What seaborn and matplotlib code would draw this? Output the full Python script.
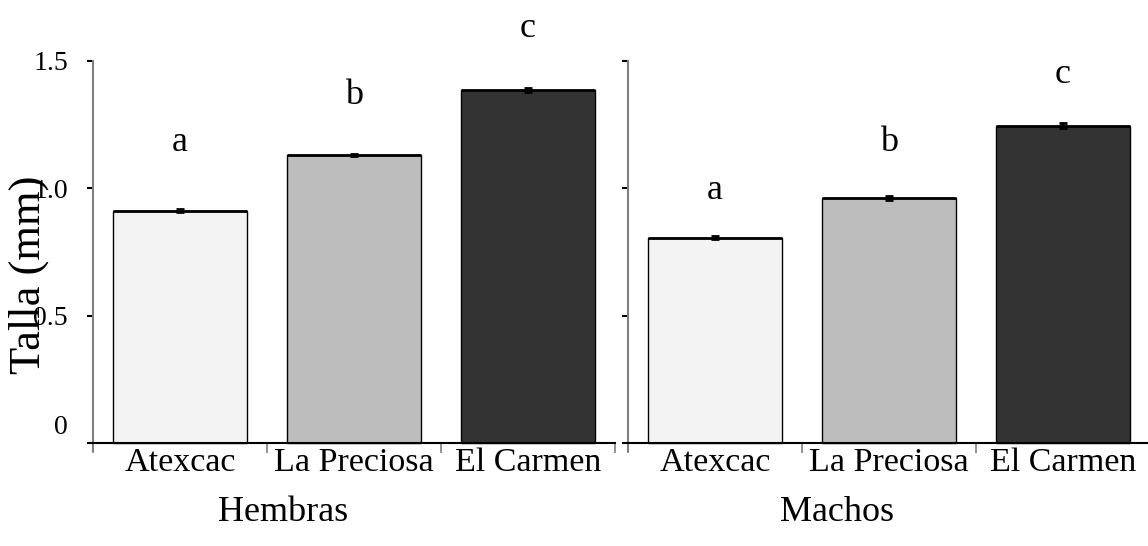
import matplotlib
matplotlib.use("Agg")
import matplotlib.pyplot as plt
import matplotlib.transforms as mtransforms
import numpy as np
import pandas as pd
import seaborn as sns

# Mean body length (mm) per site, females and males
sites = ["Atexcac", "La Preciosa", "El Carmen"]
hembras_talla = [0.911, 1.131, 1.386]
hembras_ee = [0.006, 0.005, 0.006]
machos_talla = [0.805, 0.962, 1.245]
machos_ee = [0.006, 0.006, 0.010]
hembras_letras = ["a", "b", "c"]
machos_letras = ["a", "b", "c"]
hembras_letra_y = [1.178, 1.366, 1.629]
machos_letra_y = [0.993, 1.178, 1.445]
colores = ["#f3f3f3", "#bdbdbd", "#333333"]
y_ticks = [0, 0.5, 1.0, 1.5]
y_ticklabels = ["0", "0.5", "1.0", "1.5"]

sns.set_theme(style="white")
plt.rcParams["font.family"] = ["Liberation Serif", "DejaVu Serif"]
plt.rcParams["text.color"] = "black"
plt.rcParams["xtick.color"] = "black"
plt.rcParams["ytick.color"] = "black"
plt.rcParams["axes.labelcolor"] = "black"

W, H = 1148, 546
fig = plt.figure(figsize=(W / 100, H / 100), dpi=100)

px_per_unit = 254.7
ymin = -0.03
ax_h = (1.5 - ymin) * px_per_unit
ax_bottom = (H - 443) + ymin * px_per_unit

ax1 = fig.add_axes([93 / W, ax_bottom / H, 522 / W, ax_h / H])
ax2 = fig.add_axes([628 / W, ax_bottom / H, 522 / W, ax_h / H])

panels = [
    (ax1, hembras_talla, hembras_ee, hembras_letras, hembras_letra_y, "Hembras", 0.365),
    (ax2, machos_talla, machos_ee, machos_letras, machos_letra_y, "Machos", 0.40),
]

for i, (ax, talla, ee, letras, letra_y, titulo, lx) in enumerate(panels):
    df = pd.DataFrame({"sitio": sites, "talla": talla})
    sns.barplot(data=df, x="sitio", y="talla", hue="sitio", palette=colores,
                width=0.77, edgecolor="black", linewidth=1.0, legend=False,
                saturation=1, ax=ax)
    centers = [p.get_x() + p.get_width() / 2 for p in ax.patches]
    # heavier line along each bar top
    for p in ax.patches:
        ax.plot([p.get_x(), p.get_x() + p.get_width()], [p.get_height()] * 2,
                color="black", lw=2, solid_capstyle="butt")
    ax.errorbar(centers, talla, yerr=ee, fmt="none", ecolor="black",
                elinewidth=1.5, capsize=3, capthick=2)
    for x, lab, ly in zip(centers, letras, letra_y):
        ax.text(x, ly, lab, ha="center", va="center", fontsize=26, color="black")

    ax.set_xlim(-0.5, 2.5)
    ax.set_ylim(ymin, 1.5)
    ax.set_yticks(y_ticks)
    ax.set_xticks([-0.5, 0.5, 1.5, 2.5], minor=False)
    ax.set_xticks([0, 1, 2], minor=True)
    ax.set_xticklabels([], minor=False)
    ax.set_xticklabels(sites, minor=True)
    ax.tick_params(axis="x", which="major", direction="out", length=7,
                   width=1.2, color="#808080", bottom=True)
    ax.tick_params(axis="x", which="minor", length=0, pad=3, bottom=True,
                   labelsize=24.5, labelcolor="black")
    ax.tick_params(axis="y", direction="out", length=4, width=1.5,
                   color="black", left=True, pad=14, labelcolor="black",
                   labelsize=20)
    ax.set_xlabel(titulo, fontsize=26, color="black")
    ax.xaxis.set_label_coords(lx, -0.117)
    ax.set_ylabel("")

    for s in ["top", "right"]:
        ax.spines[s].set_visible(False)
    ax.spines["left"].set_color("#808080")
    ax.spines["left"].set_linewidth(1.5)
    ax.spines["bottom"].set_color("black")
    ax.spines["bottom"].set_linewidth(1.5)
    ax.spines["bottom"].set_position(("data", 0))

    if i == 0:
        ax.set_yticklabels(y_ticklabels)
        # raise the zero label slightly above the baseline
        lbl0 = ax.get_yticklabels()[0]
        lbl0.set_transform(lbl0.get_transform() +
                           mtransforms.ScaledTranslation(0, 18 / 100, fig.dpi_scale_trans))
    else:
        ax.set_yticklabels([])

fig.text(29 / W, (H - 275) / H, "Talla (mm)", rotation=90, ha="center",
         va="center", fontsize=32, color="black")

fig.savefig("out.png", dpi=100)
